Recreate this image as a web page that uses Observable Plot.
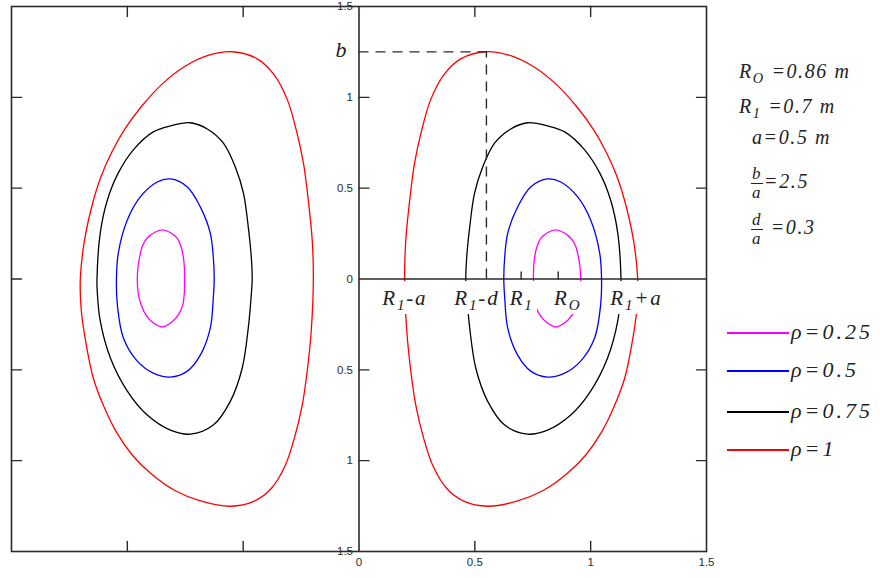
<!DOCTYPE html>
<html><head><meta charset="utf-8">
<script src="https://cdn.jsdelivr.net/npm/d3@7"></script>
<script src="https://cdn.jsdelivr.net/npm/@observablehq/plot@0.6"></script>
<style>
body{margin:0;background:#fff;}
#wrap{position:relative;width:880px;height:578px;overflow:hidden;background:#fff;}
.it{position:absolute;font-family:"Liberation Serif","Times New Roman",serif;font-style:italic;color:#222;white-space:nowrap;}
.it sub{font-size:72%;vertical-align:-0.32em;line-height:0;}
.mk{background:#fff;height:33px;line-height:34px;font-size:21px;letter-spacing:1.8px;padding:0 3px;transform:translateX(-50%);}
.frac{display:inline-block;vertical-align:middle;text-align:center;font-size:17px;line-height:17px;margin-right:1px;}
.frac span{display:block;padding:0 1px;}
.frac span.num{border-bottom:1.2px solid #222;padding-bottom:1px;}
.lg{position:absolute;left:727px;height:0;}
.lg .ln{position:absolute;left:0;top:-1px;width:62px;height:1.5px;}
.lg .tx{position:absolute;left:64px;top:-15px;font-size:22px;line-height:28px;letter-spacing:3px;}
</style></head><body><div id="wrap"></div>
<script>
// ---------- data ----------
const paramNames = ["RO", "R1", "a", "b/a", "d/a"];
const paramValues = [0.86, 0.7, 0.5, 2.5, 0.3];
const rhoValues = [0.25, 0.5, 0.75, 1];
const rhoColors = ["#ff00ff", "#0000ff", "#000000", "#ff0000"];

// flux-surface contours (R in m, Z in m)
const pinkR = [0.957,0.954,0.946,0.935,0.914,0.883,0.849,0.815,0.786,0.769,0.759,0.754,0.753,0.754,0.760,0.778,0.808,0.849,0.890,0.920,0.940,0.953];
const pinkZ = [0,0.066,0.127,0.182,0.226,0.256,0.270,0.256,0.226,0.182,0.127,0.066,0,-0.077,-0.138,-0.193,-0.237,-0.264,-0.240,-0.198,-0.143,-0.077];
const blueR = [0.625,0.629,0.642,0.685,0.741,0.814,0.871,0.944,1.000,1.039,1.047,1.043,1.017,0.957,0.888,0.814,0.741,0.685,0.642,0.629];
const blueZ = [0,0.121,0.253,0.397,0.507,0.551,0.534,0.452,0.325,0.143,0,-0.143,-0.325,-0.452,-0.518,-0.540,-0.507,-0.419,-0.270,-0.105];
const blackR = [0.461,0.465,0.478,0.499,0.534,0.586,0.655,0.728,0.814,0.888,0.974,1.039,1.086,1.117,1.131,1.130,1.117,1.073,1.000,0.914,0.814,0.728,0.629,0.555,0.504,0.478,0.465];
const blackZ = [0,0.121,0.287,0.474,0.617,0.749,0.826,0.860,0.843,0.810,0.711,0.584,0.435,0.253,0,-0.066,-0.231,-0.435,-0.617,-0.749,-0.832,-0.854,-0.804,-0.672,-0.490,-0.270,-0.088];
const redR = [0.197,0.202,0.219,0.240,0.271,0.309,0.366,0.439,0.547,0.655,0.754,0.849,0.940,1.013,1.069,1.116,1.155,1.186,1.203,1.199,1.177,1.147,1.104,1.047,0.978,0.896,0.797,0.681,0.555,0.452,0.378,0.318,0.279,0.245,0.223,0.206];
const redZ = [0,0.215,0.435,0.639,0.821,0.986,1.124,1.212,1.251,1.229,1.168,1.074,0.948,0.821,0.694,0.556,0.391,0.204,0,-0.171,-0.364,-0.545,-0.694,-0.843,-0.970,-1.074,-1.163,-1.223,-1.251,-1.223,-1.152,-1.025,-0.876,-0.694,-0.501,-0.281];

const xTickValues = [0, 0.5, 1, 1.5];
const xTickLabels = ["0", "0.5", "1", "1.5"];
const yTickValues = [1.5, 1, 0.5, 0, -0.5, -1, -1.5];
const yTickLabels = ["1.5", "1", "0.5", "0", "0.5", "1", "1.5"];
const edgeTicksY = [1, 0.5, 0, -0.5, -1];
const innerTicksY = [1, 0.5, -0.5, -1];
const frameTicksX = [-1, -0.5, 0.5, 1];

// ---------- derived ----------
const [R0, R1, a, bOverA, dOverA] = paramValues;
const b = bOverA * a, d = dOverA * a;
const markerNames = ["R1-a", "R1-d", "R1", "RO", "R1+a"];
const markerValues = [R1 - a, R1 - d, R1, R0, R1 + a];
const curves = [[pinkR, pinkZ], [blueR, blueZ], [blackR, blackZ], [redR, redZ]];

const rows = [];
curves.forEach(([Rs, Zs], k) => {
  Rs.forEach((r, i) => {
    rows.push({panel: "right", rho: rhoValues[k], x: r, y: Zs[i]});
    rows.push({panel: "left", rho: rhoValues[k], x: -r, y: Zs[i]});
  });
});

const ink = "#2a2a2a";
const tickShape = {draw(ctx, l) { ctx.moveTo(0, 0); ctx.lineTo(0, -l); }};
const ticks = (data, opts) => Plot.vector(data, {length: 10, anchor: "start", shape: tickShape, stroke: ink, strokeWidth: 1.4, ...opts});

const curveMarks = [];
rhoValues.forEach((rv, k) => {
  ["left", "right"].forEach(p => {
    curveMarks.push(Plot.line(rows.filter(r => r.rho === rv && r.panel === p), {
      x: "x", y: "y", stroke: rhoColors[k], strokeWidth: 1.3, curve: "catmull-rom-closed"
    }));
  });
});

const chart = Plot.plot({
  width: 880, height: 578,
  marginLeft: 11, marginRight: 174, marginTop: 6, marginBottom: 27,
  x: {domain: [-1.5, 1.5], axis: null},
  y: {domain: [-1.5, 1.5], axis: null},
  style: {background: "white", fontFamily: "'Liberation Sans', Arial, sans-serif", fontSize: "11.5px", color: ink, overflow: "visible"},
  marks: [
    ...curveMarks,
    Plot.ruleY([b], {x1: 0, x2: R1 - d, stroke: ink, strokeWidth: 1.4, strokeDasharray: "10,7"}),
    Plot.ruleX([R1 - d], {y1: 0, y2: b, stroke: ink, strokeWidth: 1.4, strokeDasharray: "10,7"}),
    Plot.text(yTickValues, {x: 0, y: d => d, text: (d, i) => yTickLabels[i], textAnchor: "end", dx: -6, fill: ink}),
    Plot.text(xTickValues, {x: d => d, frameAnchor: "bottom", dy: 14, text: (d, i) => xTickLabels[i], fill: ink}),
    Plot.ruleY([0], {x1: 0, x2: 1.5, stroke: ink, strokeWidth: 1.6}),
    ticks(edgeTicksY, {x: -1.5, y: d => d, rotate: 90}),
    ticks(innerTicksY, {x: 0, y: d => d, rotate: 90}),
    ticks(innerTicksY, {x: 1.5, y: d => d, rotate: -90}),
    ticks(frameTicksX, {x: d => d, y: 1.5, rotate: 180}),
    ticks(frameTicksX, {x: d => d, y: -1.5, rotate: 0}),
    ticks([R1, R0], {x: d => d, y: 0, rotate: 0, length: 7}),
    Plot.frame({stroke: ink, strokeWidth: 1.6}),
    Plot.ruleX([0], {stroke: ink, strokeWidth: 1.6})
  ]
});

const wrap = document.getElementById("wrap");
wrap.appendChild(chart);
const sx = chart.scale("x"), sy = chart.scale("y");

function fmt(name) {
  return name.replace(/^R([O1])/, "R<sub>$1</sub>");
}
function add(html, cls, left, top, extra) {
  const el = document.createElement("div");
  el.className = "it " + (cls || "");
  el.innerHTML = html;
  el.style.left = left + "px";
  el.style.top = top + "px";
  if (extra) Object.assign(el.style, extra);
  wrap.appendChild(el);
  return el;
}
// axis markers with white label boxes
const markerShift = {"R1-d": -9, "RO": 10, "R1": 1};
markerNames.forEach((n, i) => {
  add(fmt(n), "mk", sx.apply(markerValues[i]) + (markerShift[n] || 0), sy.apply(0) + 2);
});
// b label
add("b", "", sx.apply(0) - 23, sy.apply(b) - 15, {fontSize: "22px", lineHeight: "28px"});

// parameter block
const pv = paramValues;
const pst = {fontSize: "20px", lineHeight: "28px", letterSpacing: "1.6px"};
add(`R<sub>O</sub> =${pv[0]} m`, "", 739, 57, pst);
add(`R<sub>1</sub> =${pv[1]} m`, "", 739, 92, pst);
add(`a=${pv[2]} m`, "", 752, 123, pst);
add(`<span class="frac"><span class="num">b</span><span>a</span></span>=${pv[3]}`, "", 751, 163, {...pst, lineHeight: "36px"});
add(`<span class="frac"><span class="num">d</span><span>a</span></span> =${pv[4]}`, "", 751, 209, {...pst, lineHeight: "36px"});

// legend
const legendY = [333, 371, 412, 450];
rhoValues.forEach((rv, k) => {
  const row = document.createElement("div");
  row.className = "lg";
  row.style.top = legendY[k] + "px";
  row.innerHTML = `<div class="ln" style="background:${rhoColors[k]}"></div><div class="tx it">ρ=${rv}</div>`;
  wrap.appendChild(row);
});
</script>
</body></html>
